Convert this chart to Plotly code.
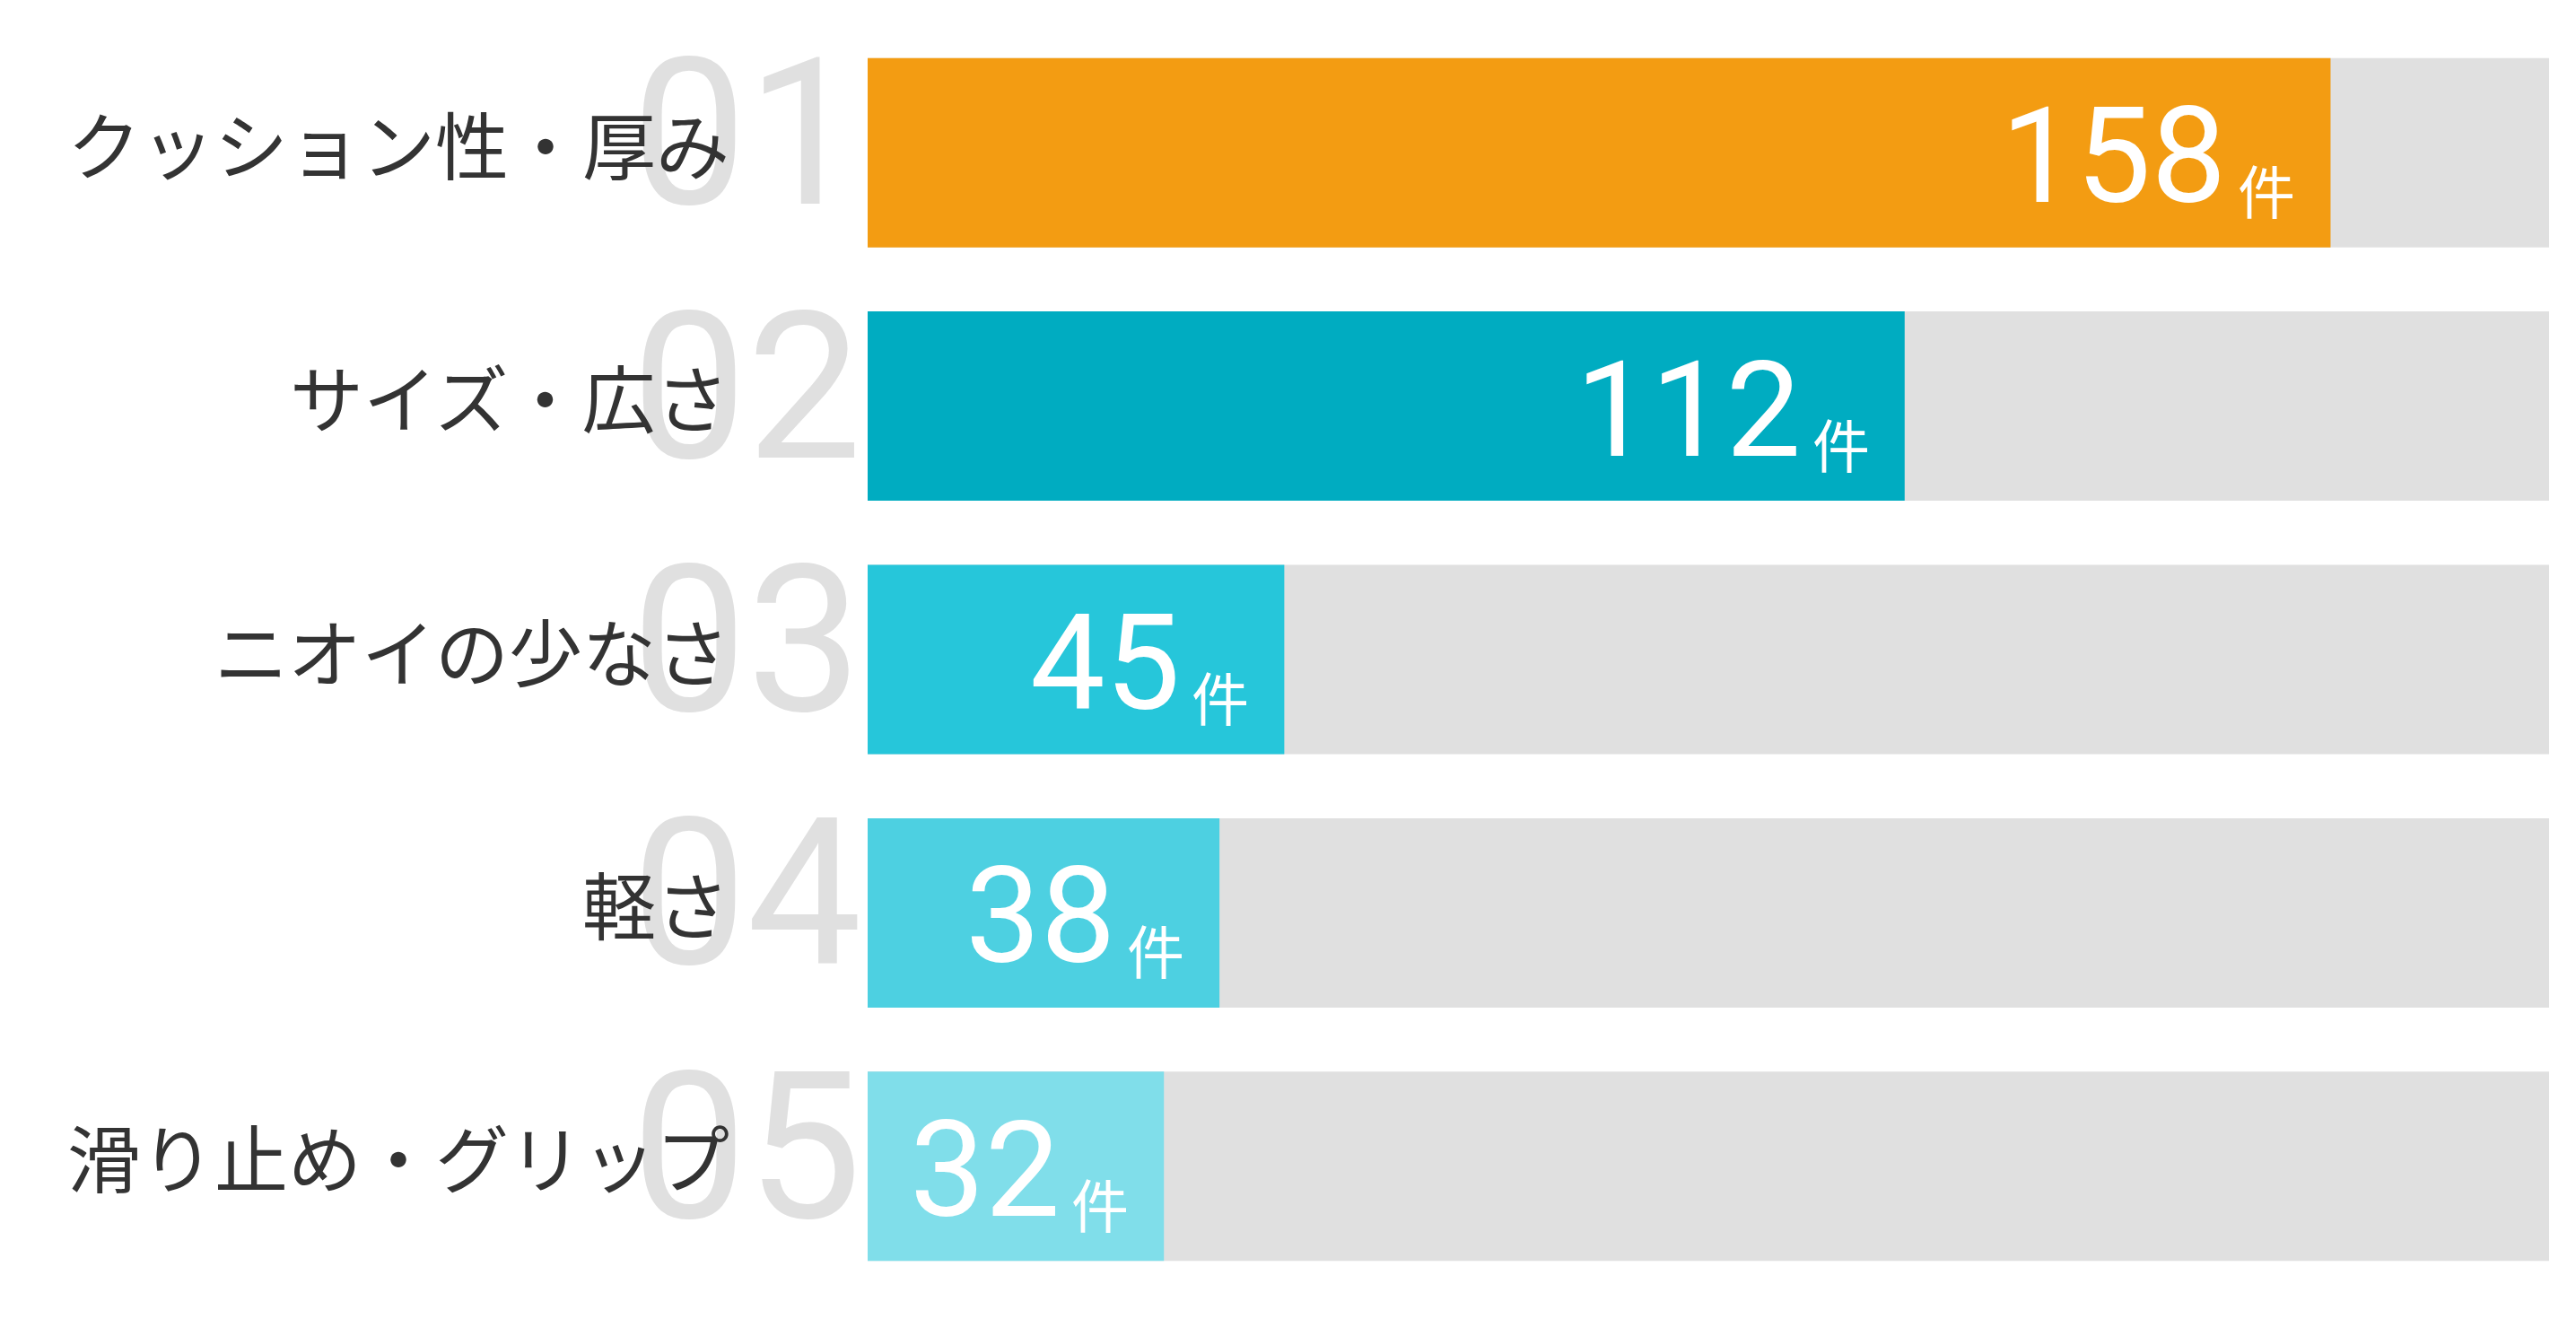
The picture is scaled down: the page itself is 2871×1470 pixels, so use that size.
import plotly.graph_objects as go

# data
labels = ["クッション性・厚み", "サイズ・広さ", "ニオイの少なさ", "軽さ", "滑り止め・グリップ"]
ranks = ["01", "02", "03", "04", "05"]
counts = [158, 112, 45, 38, 32]
unit = "件"
track_max = 181.6

colors = ["#F39C12", "#00ACC1", "#26C6DA", "#4DD0E1", "#80DEEA"]
track_color = "#E0E0E0"

fig = go.Figure()

# grey background track
fig.add_trace(go.Bar(
    y=labels, x=[track_max] * len(labels), orientation="h",
    marker=dict(color=track_color, line=dict(width=0)),
    hoverinfo="skip", showlegend=False,
))
# value bars
fig.add_trace(go.Bar(
    y=labels, x=counts, orientation="h",
    marker=dict(color=colors, line=dict(width=0)),
    showlegend=False,
))

annotations = []
# big rank numbers behind the labels
for lab, r in zip(labels, ranks):
    annotations.append(dict(
        x=0, y=lab, xref="x", yref="y", text=r, showarrow=False,
        xanchor="right", yanchor="middle", xshift=-5, yshift=21,
        font=dict(family="Roboto", size=228, color="#E0E0E0"),
    ))
# category labels on top of them
for lab in labels:
    annotations.append(dict(
        x=0, y=lab, xref="x", yref="y", text=lab, showarrow=False,
        xanchor="right", yanchor="middle", xshift=-152, yshift=12,
        font=dict(family="Noto Sans CJK JP", size=82, color="#333333"),
    ))
# value text inside bars
for lab, c in zip(labels, counts):
    annotations.append(dict(
        x=c, y=lab, xref="x", yref="y", text=str(c), showarrow=False,
        xanchor="right", yanchor="middle", xshift=-114, yshift=-4,
        font=dict(family="Roboto", size=149, color="white"),
    ))
    annotations.append(dict(
        x=c, y=lab, xref="x", yref="y", text=unit, showarrow=False,
        xanchor="right", yanchor="middle", xshift=-37, yshift=-40,
        font=dict(family="Noto Sans CJK JP", size=64, color="white"),
    ))

# page body adds an 8px offset, so margins are shifted to compensate
fig.update_layout(
    width=2871, height=1470,
    margin=dict(l=959, r=38, t=21, b=37),
    paper_bgcolor="white", plot_bgcolor="white",
    barmode="overlay", bargap=0.253,
    xaxis=dict(range=[0, track_max], visible=False, fixedrange=True),
    yaxis=dict(range=[4.5, -0.5], visible=False, fixedrange=True),
    annotations=annotations,
)

fig.write_html("out.html")
